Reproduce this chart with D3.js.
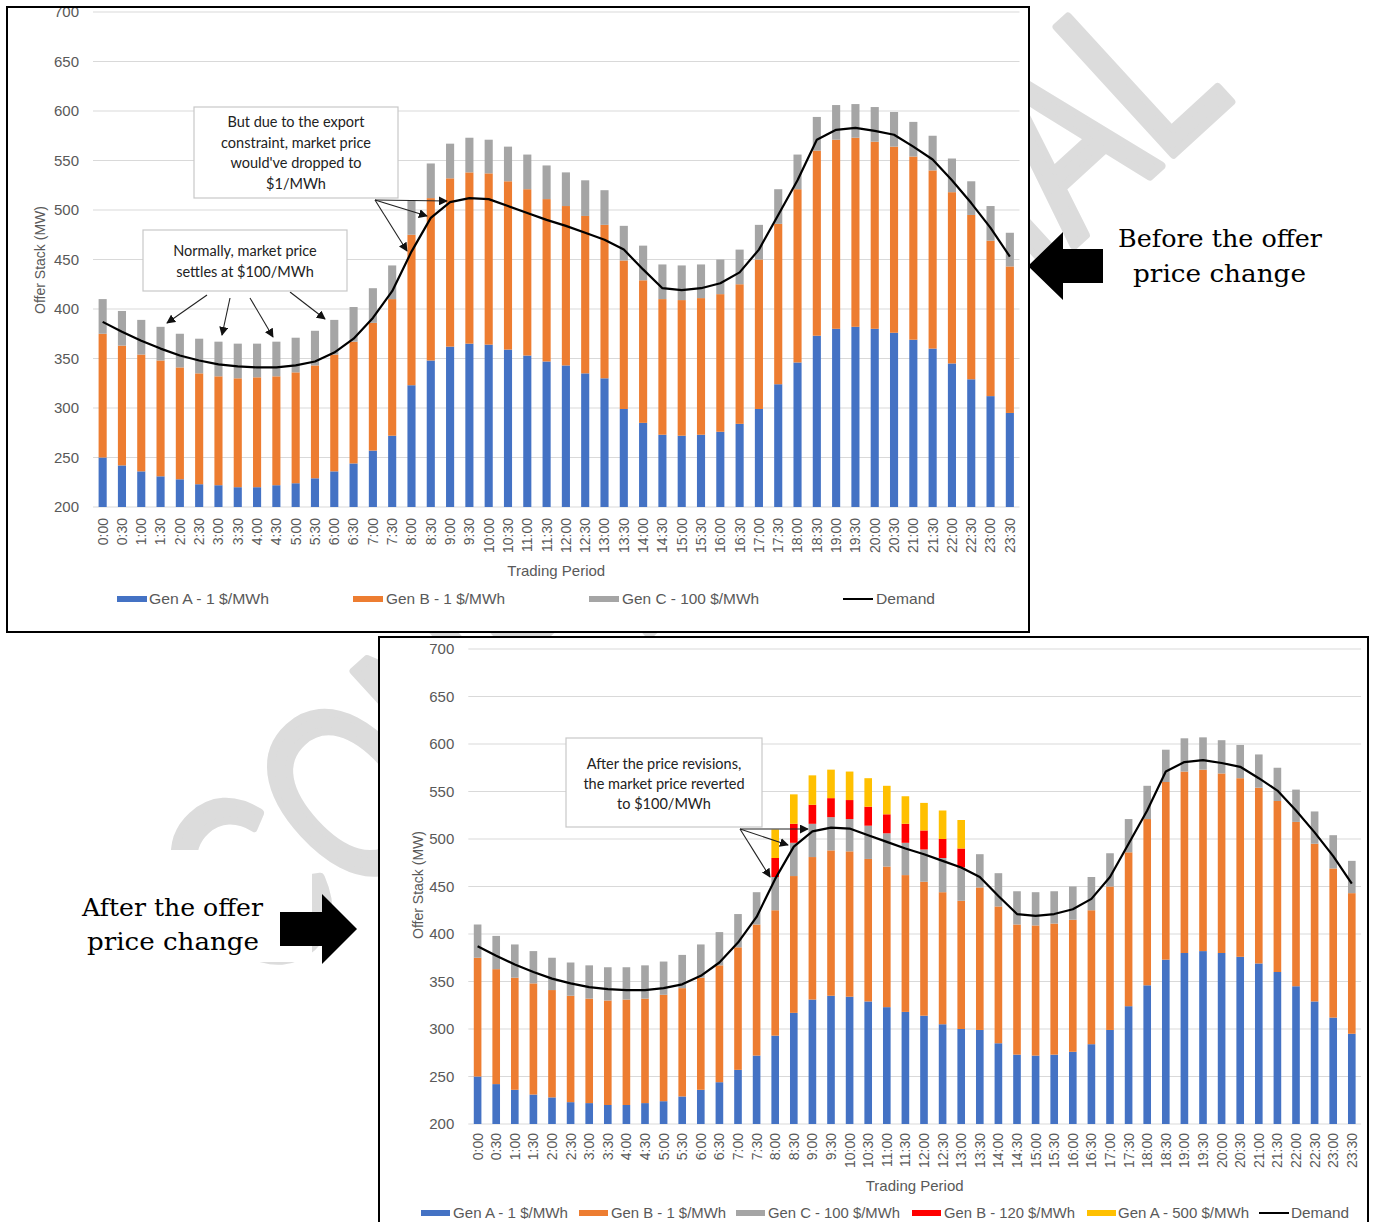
<!DOCTYPE html>
<html><head><meta charset="utf-8">
<script src="https://cdn.jsdelivr.net/npm/d3@7"></script>
<style>body{margin:0;background:#fff}svg{display:block}</style>
</head><body>
<script>
// ---------------- DATA ----------------
const periods = ["0:00","0:30","1:00","1:30","2:00","2:30","3:00","3:30","4:00","4:30","5:00","5:30",
  "6:00","6:30","7:00","7:30","8:00","8:30","9:00","9:30","10:00","10:30","11:00","11:30",
  "12:00","12:30","13:00","13:30","14:00","14:30","15:00","15:30","16:00","16:30","17:00","17:30",
  "18:00","18:30","19:00","19:30","20:00","20:30","21:00","21:30","22:00","22:30","23:00","23:30"];
// Gen A - 1 $/MWh (MW)
const genA = [250,242,236,231,228,223,222,220,220,222,224,229,236,244,257,272,323,348,362,365,364,359,353,347,
  343,335,330,299,285,273,272,273,276,284,299,324,346,373,380,382,380,376,369,360,345,329,312,295];
// Gen B - 1 $/MWh (MW)
const genB = [125,121,118,117,113,112,110,110,111,110,112,114,118,123,129,138,152,164,170,173,173,170,168,164,
  161,159,155,150,144,137,137,138,139,141,151,162,175,187,191,191,189,188,185,180,173,166,157,148];
// Gen C - 100 $/MWh (MW)
const genC = [35,35,35,34,34,35,35,35,34,35,35,35,35,35,35,34,35,35,35,35,34,35,35,34,
  34,36,35,35,35,35,35,34,35,35,35,35,35,34,35,34,35,35,35,35,34,34,35,34];
// After offer change: Gen B offered at 120 $/MWh (MW)
const genB120 = [0,0,0,0,0,0,0,0,0,0,0,0,0,0,0,0,20,20,20,20,20,20,20,20,
  20,20,20,0,0,0,0,0,0,0,0,0,0,0,0,0,0,0,0,0,0,0,0,0];
// After offer change: Gen A offered at 500 $/MWh (MW)
const genA500 = [0,0,0,0,0,0,0,0,0,0,0,0,0,0,0,0,30,31,31,30,30,30,30,29,
  29,30,30,0,0,0,0,0,0,0,0,0,0,0,0,0,0,0,0,0,0,0,0,0];
// Demand (MW)
const demand = [387,377,368,360,353,348,344,342,341,341,343,347,356,370,391,418,458,492,508,512,511,504,497,490,
  484,477,470,460,440,421,419,421,426,437,460,495,530,571,581,583,580,576,564,551,530,507,482,453];
const yTicks = [200,250,300,350,400,450,500,550,600,650,700];
const legendTop = ["Gen A - 1 $/MWh","Gen B - 1 $/MWh","Gen C - 100 $/MWh","Demand"];
const legendBottom = ["Gen A - 1 $/MWh","Gen B - 1 $/MWh","Gen C - 100 $/MWh","Gen B - 120 $/MWh","Gen A - 500 $/MWh","Demand"];

const COL = {A:"#4472C4", B:"#ED7D31", C:"#A5A5A5", R:"#FF0000", Y:"#FFC000"};
const AXFONT = "'Liberation Sans', Arial, sans-serif";
const NOTEFONT = "Lato, 'Open Sans', sans-serif";

const svg = d3.select("body").append("svg").attr("width",1375).attr("height",1222);
const defs = svg.append("defs");
defs.append("marker").attr("id","ah").attr("viewBox","0 0 10 10").attr("refX",9).attr("refY",5)
  .attr("markerWidth",9).attr("markerHeight",9).attr("markerUnits","userSpaceOnUse").attr("orient","auto")
  .append("path").attr("d","M0,0L10,5L0,10z").attr("fill","#111");

// ---------------- WATERMARK ----------------
svg.append("text").attr("transform","translate(259,992) rotate(-42.5)")
  .attr("textLength",1325).attr("lengthAdjust","spacingAndGlyphs")
  .style("font-family",AXFONT).style("font-size","250px")
  .attr("fill","#dcdcdc").attr("stroke","#dcdcdc").attr("stroke-width",9).attr("stroke-linejoin","round")
  .text("CONFIDENTIAL");
svg.append("rect").attr("x",70).attr("y",850).attr("width",242).attr("height",112).attr("fill","#fff");

// ---------------- CHART ----------------
function drawChart(o){
  const g = svg.append("g");
  defs.append("clipPath").attr("id",o.id).append("rect")
    .attr("x",o.frame.x).attr("y",o.frame.y).attr("width",o.frame.w).attr("height",o.frame.h);
  const c = g.append("g").attr("clip-path",`url(#${o.id})`);
  c.append("rect").attr("x",o.frame.x).attr("y",o.frame.y).attr("width",o.frame.w).attr("height",o.frame.h).attr("fill","#fff");

  const x = d3.scaleBand().domain(periods).range(o.xRange).padding(0);
  const y = d3.scaleLinear().domain([200,700]).range(o.yRange);
  const x0 = o.xRange[0], x1 = o.xRange[1];

  c.selectAll(null).data(yTicks).join("line")
    .attr("x1",x0).attr("x2",x1).attr("y1",d=>y(d)).attr("y2",d=>y(d))
    .attr("stroke","#d9d9d9").attr("stroke-width",1);
  c.selectAll(null).data(yTicks).join("text")
    .attr("x",x0-14).attr("y",d=>y(d)).attr("dy","0.35em").attr("text-anchor","end")
    .style("font-family",AXFONT).style("font-size","15px").attr("fill","#595959").text(d=>d);

  const series = d3.stack().keys(o.keys)(o.rows);
  const bw = x.bandwidth()*o.barFrac;
  c.selectAll(null).data(series).join("g").attr("fill",s=>COL[s.key])
    .selectAll("rect").data(s=>s.filter(d=>d[1]-d[0]>0)).join("rect")
    .attr("x",d=>x(d.data.period)+(x.bandwidth()-bw)/2).attr("width",bw)
    .attr("y",d=>y(d[1])).attr("height",d=>y(Math.max(200,d[0]))-y(d[1]));

  const line = d3.line().x((d,i)=>x(periods[i])+x.bandwidth()/2).y(d=>y(d));
  c.append("path").attr("d",line(demand)).attr("fill","none").attr("stroke","#000").attr("stroke-width",2.2)
    .attr("stroke-linejoin","round");

  c.selectAll(null).data(periods).join("text")
    .attr("transform",d=>`translate(${x(d)+x.bandwidth()/2},${y(200)+o.labGap}) rotate(-90)`)
    .attr("text-anchor","end").attr("dy","0.35em")
    .style("font-family",AXFONT).style("font-size","14px").attr("fill","#595959").text(d=>d);

  c.append("text").attr("x",(x0+x1)/2).attr("y",o.xTitleY).attr("text-anchor","middle").attr("dy","0.35em")
    .style("font-family",AXFONT).style("font-size","15px").attr("fill","#595959").text("Trading Period");
  c.append("text").attr("transform",`translate(${o.yTitle[0]},${o.yTitle[1]}) rotate(-90)`)
    .attr("text-anchor","middle").attr("dy","0.35em")
    .style("font-family",AXFONT).style("font-size","14px").attr("fill","#595959").text("Offer Stack (MW)");

  const lg = c.append("g");
  o.legend.forEach((it,i)=>{
    if(it.type==="line"){
      lg.append("line").attr("x1",it.s0).attr("x2",it.s1).attr("y1",o.legY).attr("y2",o.legY)
        .attr("stroke","#000").attr("stroke-width",2);
    } else {
      lg.append("rect").attr("x",it.s0).attr("width",it.s1-it.s0).attr("y",o.legY-3).attr("height",6).attr("fill",COL[it.key]);
    }
    lg.append("text").attr("x",it.tx).attr("y",o.legY).attr("dy","0.35em")
      .attr("textLength",it.tw).attr("lengthAdjust","spacingAndGlyphs")
      .style("font-family",AXFONT).style("font-size","15px").attr("fill","#595959").text(o.legendLabels[i]);
  });

  // annotations
  o.notes.forEach(n=>{
    n.arrows.forEach(a=>{
      c.append("line").attr("x1",a[0]).attr("y1",a[1]).attr("x2",a[2]).attr("y2",a[3])
        .attr("stroke","#222").attr("stroke-width",1.1).attr("marker-end","url(#ah)");
    });
    c.append("rect").attr("x",n.box[0]).attr("y",n.box[1]).attr("width",n.box[2]).attr("height",n.box[3])
      .attr("fill","#fff").attr("stroke","#c8c8c8").attr("stroke-width",1.2);
    n.lines.forEach((t,k)=>{
      c.append("text").attr("x",n.box[0]+n.box[2]/2).attr("y",n.ly[k]).attr("dy","0.35em").attr("text-anchor","middle")
        .style("font-family",NOTEFONT).style("font-size","14.5px").attr("fill","#222").text(t);
    });
  });

  g.append("rect").attr("x",o.frame.x).attr("y",o.frame.y).attr("width",o.frame.w).attr("height",o.frame.h)
    .attr("fill","none").attr("stroke","#000").attr("stroke-width",2);
}

const rowsTop = periods.map((p,i)=>({period:p, A:genA[i], B:genB[i], C:genC[i]}));
const rowsBottom = periods.map((p,i)=>({period:p, A:genA[i]-genA500[i], B:genB[i]-genB120[i], C:genC[i], R:genB120[i], Y:genA500[i]}));

drawChart({
  id:"clipTop", frame:{x:7,y:7,w:1022,h:625},
  xRange:[93,1019.5], yRange:[507,12], keys:["A","B","C"], rows:rowsTop, barFrac:0.42,
  labGap:11, xTitleY:571, yTitle:[40,260], legY:599, legendLabels:legendTop,
  legend:[{key:"A",s0:117,s1:147,tx:149,tw:120},{key:"B",s0:353,s1:383,tx:386,tw:119},
          {key:"C",s0:589,s1:619,tx:622,tw:137},{type:"line",s0:843,s1:873,tx:876,tw:59}],
  notes:[
    {box:[194,107,204,91], lines:["But due to the export","constraint, market price","would've dropped to","$1/MWh"], ly:[122,143,163,184],
     arrows:[[375,200,447,201],[375,200,427,216],[375,200,407,251]]},
    {box:[143,230,204,61], lines:["Normally, market price","settles at $100/MWh"], ly:[251,272],
     arrows:[[207,295,167,323],[230,298,222,335],[250,298,273,337],[290,292,325,319]]}
  ]
});

drawChart({
  id:"clipBot", frame:{x:379,y:637,w:989,h:600},
  xRange:[468.3,1361.1], yRange:[1124,649], keys:["A","B","C","R","Y"], rows:rowsBottom, barFrac:0.41,
  labGap:9, xTitleY:1186, yTitle:[418,885], legY:1213, legendLabels:legendBottom,
  legend:[{key:"A",s0:421,s1:450,tx:453,tw:115},{key:"B",s0:579,s1:608,tx:611,tw:115},
          {key:"C",s0:736,s1:765,tx:768,tw:132},{key:"R",s0:912,s1:941,tx:944,tw:131},
          {key:"Y",s0:1087,s1:1116,tx:1118,tw:131},{type:"line",s0:1259,s1:1289,tx:1291,tw:58}],
  notes:[
    {box:[566,738,196,89], lines:["After the price revisions,","the market price reverted","to $100/MWh"], ly:[764,784,804],
     arrows:[[740,829,808,829],[740,829,788,845],[740,829,770,877]]}
  ]
});

// ---------------- SIDE LABELS ----------------
const SERIF = "'DejaVu Serif', serif";
svg.append("polygon").attr("points","1028,266 1063,232 1063,249 1103,249 1103,283 1063,283 1063,300").attr("fill","#000");
svg.append("polygon").attr("points","357,929 322,894 322,912 280,912 280,946 322,946 322,964").attr("fill","#000");
[["Before the offer",1118,247,204],["price change",1133,282,173],["After the offer",82,916,181],["price change",87,950,172]]
 .forEach(t=>{
  svg.append("text").attr("x",t[1]).attr("y",t[2]).attr("textLength",t[3]).attr("lengthAdjust","spacingAndGlyphs")
    .style("font-family",SERIF).style("font-size","25px").attr("fill","#000").text(t[0]);
 });
</script>
</body></html>
